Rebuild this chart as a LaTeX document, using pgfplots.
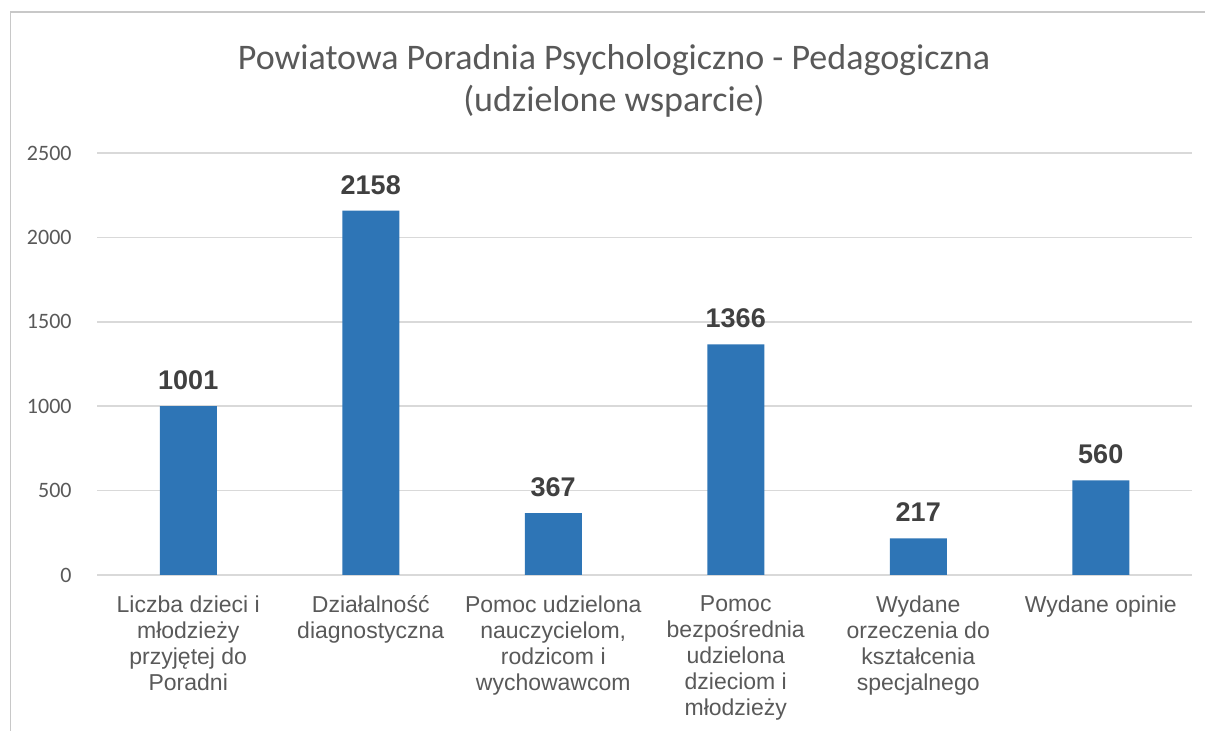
\documentclass[border=0pt]{standalone}
\usepackage{pgfplots}
\pgfplotsset{compat=1.18}
\usepackage{fontspec}
\setmainfont{Liberation Sans}
\newfontfamily\carlito{Carlito}
\definecolor{barblue}{RGB}{46,117,182}
\definecolor{txtgray}{RGB}{89,89,89}
\definecolor{lblgray}{RGB}{64,64,64}
\definecolor{gridgray}{RGB}{217,217,217}
\definecolor{framegray}{RGB}{200,200,200}
\begin{document}
\begin{tikzpicture}
\path[use as bounding box] (-48.5pt,-78pt) rectangle (554pt,287.5pt);
\draw[framegray, line width=0.75pt] (554pt,281.5pt) -- (-43.25pt,281.5pt) -- (-43.25pt,-78pt);
\node[anchor=base, text=txtgray, font=\carlito\fontsize{18}{21}\selectfont, inner sep=0pt] at (258.5pt,252.5pt) {Powiatowa Poradnia Psychologiczno - Pedagogiczna};
\node[anchor=base, text=txtgray, font=\carlito\fontsize{18}{21}\selectfont, inner sep=0pt] at (258.5pt,231.5pt) {(udzielone wsparcie)};
\begin{axis}[
  at={(0,0)}, anchor=south west,
  scale only axis,
  width=547.5pt, height=211pt,
  xmin=-0.5, xmax=5.5,
  ymin=0, ymax=2500,
  ytick={0,500,1000,1500,2000,2500},
  xtick={0,1,2,3,4,5},
  xticklabels={
    {Liczba dzieci i\\młodzieży\\przyjętej do\\Poradni},
    {Działalność\\diagnostyczna},
    {Pomoc udzielona\\nauczycielom,\\rodzicom i\\wychowawcom},
    {Pomoc\\bezpośrednia\\udzielona\\dzieciom i\\młodzieży},
    {Wydane\\orzeczenia do\\kształcenia\\specjalnego},
    {Wydane opinie}},
  xticklabel style={align=center, anchor=north, inner sep=0pt, yshift=-10pt,
    text=txtgray, font=\fontsize{11.5}{13}\selectfont},
  yticklabel style={anchor=east, inner sep=0pt, xshift=-12.5pt,
    text=txtgray, font=\carlito\fontsize{11}{13}\selectfont},
  /pgf/number format/assume math mode=true,
  /pgf/number format/1000 sep={},
  scaled y ticks=false,
  major tick length=0pt,
  axis line style={draw=none},
  ymajorgrids,
  grid style={gridgray, line width=0.75pt},
  ybar, bar width=28.5pt,
  nodes near coords,
  every node near coord/.append style={anchor=south, inner sep=0pt, yshift=8pt,
    text=lblgray, font=\bfseries\fontsize{13.5}{15}\selectfont,
    /pgf/number format/1000 sep={}},
  clip=false,
]
\addplot[fill=barblue, draw=none] coordinates {(0,1001) (1,2158) (2,367) (3,1366) (4,217) (5,560)};
\end{axis}
\end{tikzpicture}
\end{document}
